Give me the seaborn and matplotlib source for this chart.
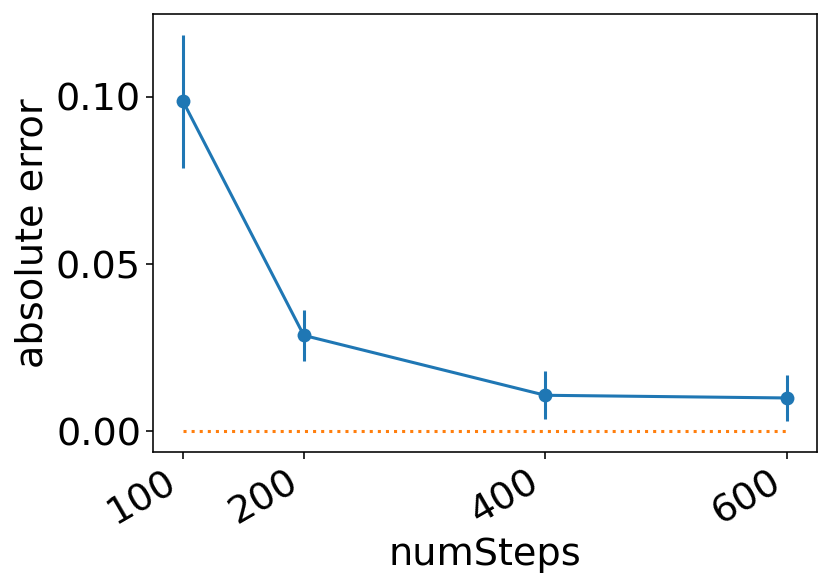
import matplotlib
matplotlib.use("Agg")
import matplotlib.pyplot as plt
import seaborn as sns
import numpy as np
import pandas as pd

num_steps = [100, 200, 400, 600]
abs_error = [0.0986, 0.0287, 0.0108, 0.0100]
err_bar = [0.0200, 0.0076, 0.0072, 0.0070]
baseline = [0.0, 0.0, 0.0, 0.0]
y_ticks = [0.00, 0.05, 0.10]

plt.rcParams.update({
    "font.family": ["DejaVu Sans"],
    "font.size": 27.5,
    "axes.linewidth": 1.15,
    "xtick.major.width": 1.15,
    "ytick.major.width": 1.15,
    "xtick.major.size": 5,
    "ytick.major.size": 5,
})

df = pd.DataFrame({"numSteps": num_steps, "absolute error": abs_error,
                   "err": err_bar, "baseline": baseline})

fig = plt.figure(figsize=(8.31, 5.88), dpi=100)
ax = fig.add_axes([0.184, 0.231, 0.799, 0.745])

blue = "#1f77b4"
orange = "#ff7f0e"

sns.lineplot(data=df, x="numSteps", y="absolute error", marker="o",
             markersize=10, markeredgewidth=0, color=blue, linewidth=2.2, ax=ax)
ax.errorbar(df["numSteps"], df["absolute error"], yerr=df["err"], fmt="none",
            ecolor=blue, elinewidth=2.2)
sns.lineplot(data=df, x="numSteps", y="baseline", color=orange,
             linestyle=":", linewidth=2.2, ax=ax)

ax.set_xticks(num_steps)
ax.set_xticklabels([str(v) for v in num_steps], rotation=30, ha="right")
ax.set_yticks(y_ticks)
ax.set_yticklabels([f"{v:.2f}" for v in y_ticks])
ax.set_xlabel("numSteps")
ax.set_ylabel("absolute error")
ax.set_xlim(75, 625)
ax.set_ylim(-0.0062, 0.1247)

fig.savefig("out.png", dpi=100)
